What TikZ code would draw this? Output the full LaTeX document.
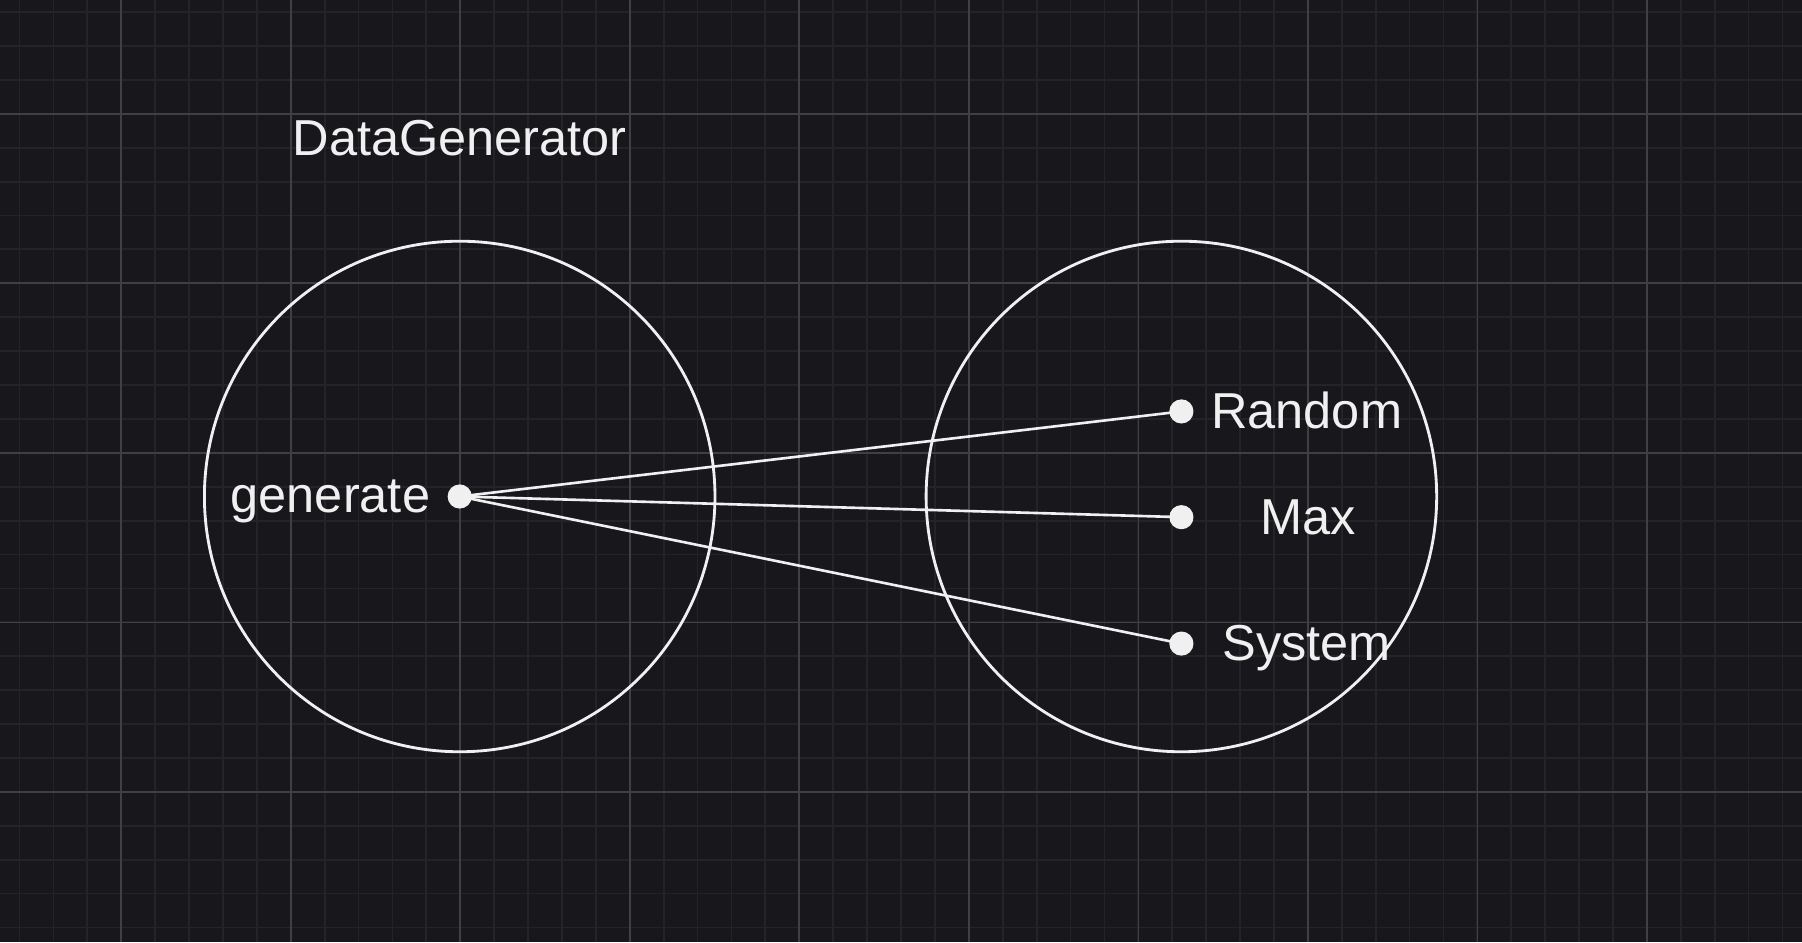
\documentclass[tikz,border=0pt]{standalone}
\usepackage{fontspec}
\setmainfont{Liberation Sans}
\usetikzlibrary{positioning}

\definecolor{canvas}{HTML}{18171C}
\definecolor{minorgrid}{HTML}{242328}
\definecolor{majorgrid}{HTML}{404044}
\definecolor{ink}{HTML}{F0F0F0}

\tikzset{
  setcircle/.style={circle,draw=ink,line width=0.7pt,inner sep=0pt,minimum size=4.44cm},
  elemdot/.style={circle,fill=ink,inner sep=0pt,minimum size=0.21cm},
  lbl/.style={text=ink,font=\fontsize{12.5}{15}\selectfont,inner sep=0pt},
  link/.style={draw=ink,line width=0.65pt},
}

\begin{document}
\begin{tikzpicture}[x=0.01cm,y=-0.01cm]
% canvas and grid
  \fill[canvas] (0,0) rectangle (1568,820);
  \useasboundingbox (0,0) rectangle (1568,820);
  \foreach \i in {0,...,52}
    \draw[minorgrid,line width=0.45pt] ({17+29.5*\i},0) -- ({17+29.5*\i},820);
  \foreach \i in {0,...,27}
    \draw[minorgrid,line width=0.45pt] (0,{10.5+29.5*\i}) -- (1568,{10.5+29.5*\i});
  \foreach \i in {0,...,9}
    \draw[majorgrid,line width=0.4pt] ({105.5+147.5*\i},0) -- ({105.5+147.5*\i},820);
  \foreach \i in {0,...,4}
    \draw[majorgrid,line width=0.4pt] (0,{99+147.5*\i}) -- (1568,{99+147.5*\i});

% the two sets
  \node[setcircle] (domain) at (400,432) {};
  \node[setcircle] (codomain) at (1028,432) {};
  \node[lbl,anchor=base] (title) at (400,135) {DataGenerator};

% elements
  \node[elemdot] (gen) at (400,432) {};
  \node[lbl,anchor=base east] (genlbl) at (375,446) {generate};
  \node[elemdot] (rnd) at (1028,358) {};
  \node[elemdot] (max) at (1028,450) {};
  \node[elemdot] (sys) at (1028,560) {};
  \node[lbl,anchor=base] (rndlbl) at (1137,373) {Random};
  \node[lbl,anchor=base] (maxlbl) at (1138,465) {Max};
  \node[lbl,anchor=base] (syslbl) at (1137,575) {System};

% mapping
  \draw[link] (gen.center) -- (rnd.center);
  \draw[link] (gen.center) -- (max.center);
  \draw[link] (gen.center) -- (sys.center);
\end{tikzpicture}
\end{document}
